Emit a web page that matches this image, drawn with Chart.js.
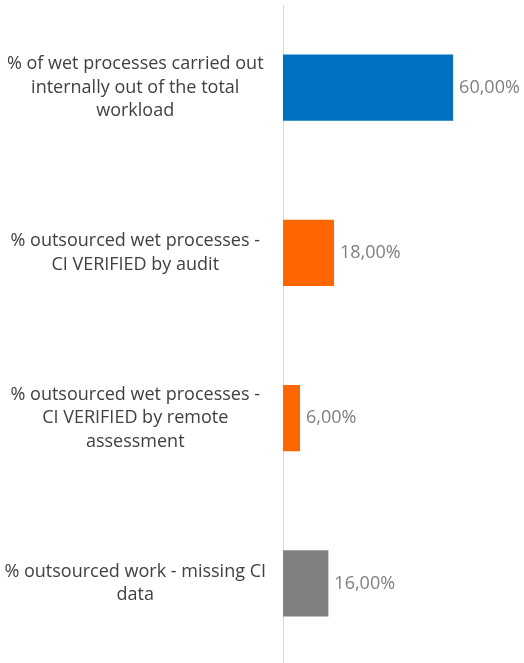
<!DOCTYPE html>
<html>
<head>
<meta charset="utf-8">
<script src="https://cdn.jsdelivr.net/npm/chart.js@4/dist/chart.umd.min.js"></script>
<style>
  html, body { margin: 0; padding: 0; background: #fff; overflow: hidden; }
  #wrap { width: 524px; height: 666px; position: relative; }
</style>
</head>
<body>
<div id="wrap"><canvas id="chart"></canvas></div>
<script>
const categories = [
    ["% of wet processes carried out", "internally out of the total", "workload"],
    ["% outsourced wet processes -", "CI VERIFIED by audit"],
    ["% outsourced wet processes -", "CI VERIFIED by remote", "assessment"],
    ["% outsourced work - missing CI", "data"]
];
const values = [60, 18, 6, 16];
const barColors = ['#0070C0', '#FF6600', '#FF6600', '#808080'];

const valueLabels = {
    id: 'valueLabels',
    afterDatasetsDraw(chart) {
        const ctx = chart.ctx;
        const meta = chart.getDatasetMeta(0);
        ctx.save();
        ctx.font = '18px "Open Sans"';
        ctx.fillStyle = '#7f7f7f';
        ctx.textAlign = 'left';
        ctx.textBaseline = 'middle';
        meta.data.forEach((bar, i) => {
            const txt = values[i].toFixed(2).replace('.', ',') + '%';
            ctx.fillText(txt, bar.x + 6, bar.y);
        });
        ctx.restore();
    }
};

new Chart('chart', {
    type: 'bar',
    data: {
        labels: categories,
        datasets: [{
            data: values,
            backgroundColor: barColors,
            categoryPercentage: 1,
            barPercentage: 0.4
        }]
    },
    plugins: [valueLabels],
    options: {
        indexAxis: 'y',
        responsive: true,
        maintainAspectRatio: false,
        animation: false,
        layout: { padding: { top: 5, right: 0, bottom: 0, left: 0 } },
        plugins: {
            legend: { display: false },
            tooltip: { enabled: false }
        },
        scales: {
            x: {
                display: false,
                min: 0,
                max: 85
            },
            y: {
                afterFit(scale) {
                    scale.width = 283;
                    scale.paddingTop = 0;
                    scale.paddingBottom = 0;
                },
                grid: { display: false, drawTicks: false },
                border: { display: true, color: '#d9d9d9', width: 1 },
                ticks: {
                    crossAlign: 'center',
                    padding: 17,
                    color: '#404040',
                    font: { family: 'Open Sans', size: 18, lineHeight: 1.3 }
                }
            }
        }
    }
});
</script>
</body>
</html>
